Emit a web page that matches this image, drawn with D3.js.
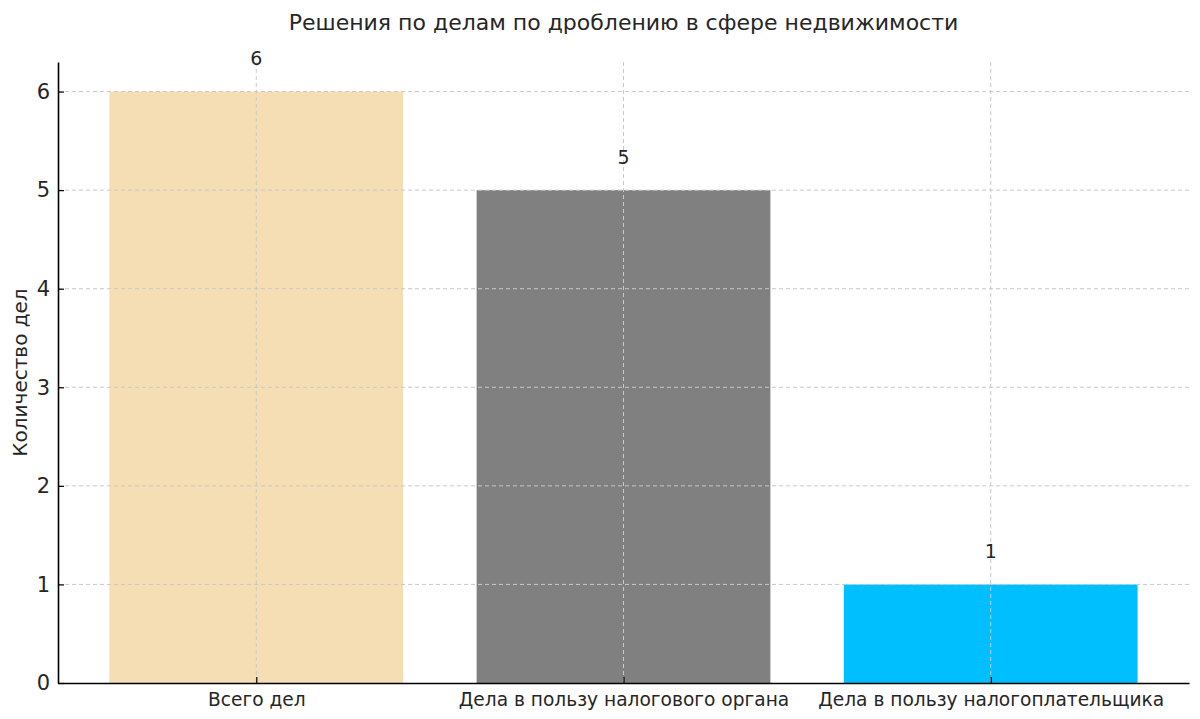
<!DOCTYPE html>
<html lang="ru">
<head>
  <meta charset="utf-8">
  <title>Решения по делам</title>
  <script src="https://d3js.org/d3.v7.min.js"></script>
  <style>
    body { margin: 0; background: #fff; }
    svg text { font-family: "DejaVu Sans", sans-serif; fill: #262626; }
    .grid line { stroke: #c8c8c8; stroke-dasharray: 4,3; stroke-width: 1; }
  </style>
</head>
<body>
  <div id="chart"></div>
  <script>
    "use strict"

    var categories = ["Всего дел", "Дела в пользу налогового органа", "Дела в пользу налогоплательщика"];
    var values = [6, 5, 1];
    var colors = ["#F5DEB3", "#808080", "#00BFFF"];
    var yTicks = [0, 1, 2, 3, 4, 5, 6];

    var larguraSVG = 1200, alturaSVG = 719;
    var margin = {top: 62, right: 11, bottom: 36, left: 58},
        w = larguraSVG - margin.left - margin.right,
        h = alturaSVG - margin.top - margin.bottom;

    // posicoes como no matplotlib: barras de largura 0.8 com margem de 5%
    var x = d3.scaleLinear().domain([-0.54, categories.length - 1 + 0.54]).range([0, w]);
    var y = d3.scaleLinear().domain([0, 6.3]).range([h, 0]);
    var bw = x(0.8) - x(0);

    var svg = d3.select("#chart").append("svg")
      .attr("width", larguraSVG).attr("height", alturaSVG);

    svg.append("text")
      .attr("x", margin.left + w / 2).attr("y", 30)
      .attr("text-anchor", "middle")
      .style("font-size", "22px")
      .text("Решения по делам по дроблению в сфере недвижимости");

    var g = svg.append("g").attr("transform", "translate(" + margin.left + "," + margin.top + ")");

    g.selectAll("rect.bar")
      .data(values)
      .enter().append("rect")
        .attr("class", "bar")
        .attr("x", (d, i) => x(i) - bw / 2)
        .attr("y", d => y(d))
        .attr("width", bw)
        .attr("height", d => h - y(d))
        .attr("fill", (d, i) => colors[i]);

    // grade tracejada por cima das barras
    var grid = g.append("g").attr("class", "grid");
    grid.selectAll("line.h").data(yTicks.slice(1)).enter().append("line")
      .attr("x1", 0).attr("x2", w).attr("y1", d => y(d)).attr("y2", d => y(d));
    grid.selectAll("line.v").data(categories).enter().append("line")
      .attr("x1", (d, i) => x(i)).attr("x2", (d, i) => x(i)).attr("y1", 0).attr("y2", h);

    g.selectAll("text.val")
      .data(values)
      .enter().append("text")
        .attr("class", "val")
        .attr("x", (d, i) => x(i))
        .attr("y", d => y(d + 0.3) + 3)
        .attr("text-anchor", "middle")
        .style("font-size", "19px")
        .text(d => d);

    var xAxis = g.append("g")
      .attr("transform", "translate(0," + h + ")")
      .call(d3.axisBottom(x).tickValues(d3.range(categories.length))
        .tickFormat(i => categories[i]).tickSizeInner(-6).tickSizeOuter(0).tickPadding(10));
    xAxis.selectAll("text").style("font-size", "18.6px").attr("fill", "#262626");

    var yAxis = g.append("g")
      .call(d3.axisLeft(y).tickValues(yTicks).tickFormat(d3.format("d"))
        .tickSizeInner(-6).tickSizeOuter(0).tickPadding(8));
    yAxis.selectAll("text").style("font-size", "21px").attr("fill", "#262626");

    g.selectAll(".domain").attr("stroke", "#000").attr("stroke-width", 1.6);
    g.selectAll(".tick line").attr("stroke", "#000").attr("stroke-width", 1.2);

    svg.append("text")
      .attr("transform", "translate(27," + (margin.top + h / 2) + ") rotate(-90)")
      .attr("text-anchor", "middle")
      .style("font-size", "20px")
      .text("Количество дел");
  </script>
</body>
</html>
